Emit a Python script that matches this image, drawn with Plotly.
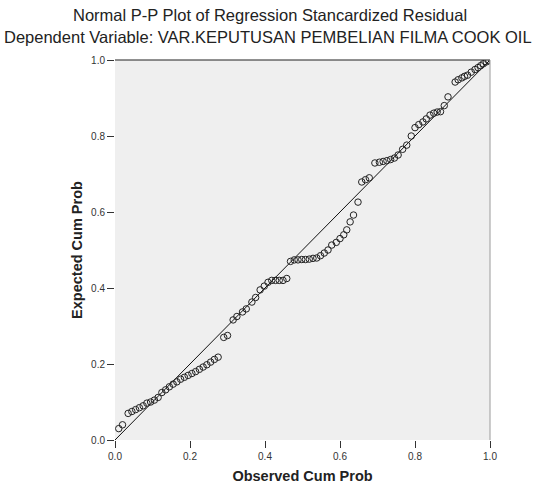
import plotly.graph_objects as go

title_text = "Normal P-P Plot of Regression Stancardized Residual"
subtitle_text = "Dependent Variable: VAR.KEPUTUSAN PEMBELIAN FILMA COOK OIL"
x_title = "Observed Cum Prob"
y_title = "Expected Cum Prob"
tick_vals = [0.0, 0.2, 0.4, 0.6, 0.8, 1.0]
tick_text = ["0.0", "0.2", "0.4", "0.6", "0.8", "1.0"]

observed = [0.01, 0.02, 0.035, 0.045, 0.055, 0.065, 0.075, 0.085, 0.095, 0.105,
            0.115, 0.125, 0.135, 0.145, 0.155, 0.165, 0.175, 0.185, 0.195, 0.205,
            0.215, 0.225, 0.235, 0.245, 0.255, 0.265, 0.275, 0.29, 0.30, 0.315,
            0.325, 0.34, 0.35, 0.365, 0.375, 0.387, 0.398, 0.408, 0.418, 0.428,
            0.438, 0.448, 0.458, 0.468, 0.478, 0.488, 0.498, 0.508, 0.518, 0.528,
            0.538, 0.548, 0.558, 0.568, 0.578, 0.59, 0.60, 0.61, 0.618, 0.627,
            0.636, 0.648, 0.658, 0.668, 0.678, 0.693, 0.705, 0.715, 0.725, 0.735,
            0.745, 0.755, 0.767, 0.778, 0.79, 0.80, 0.81, 0.821, 0.83, 0.84,
            0.85, 0.859, 0.868, 0.878, 0.888, 0.907, 0.915, 0.925, 0.932, 0.94,
            0.95, 0.96, 0.968, 0.975, 0.982, 0.99, 0.997]
expected = [0.03, 0.04, 0.07, 0.075, 0.08, 0.085, 0.09, 0.097, 0.10, 0.105,
            0.112, 0.125, 0.132, 0.14, 0.147, 0.153, 0.16, 0.165, 0.17, 0.175,
            0.18, 0.186, 0.192, 0.198, 0.205, 0.212, 0.218, 0.27, 0.275, 0.316,
            0.325, 0.337, 0.345, 0.363, 0.375, 0.395, 0.405, 0.415, 0.42, 0.42,
            0.42, 0.42, 0.425, 0.47, 0.474, 0.474, 0.475, 0.475, 0.476, 0.478,
            0.479, 0.485, 0.492, 0.50, 0.513, 0.52, 0.53, 0.54, 0.553, 0.574,
            0.592, 0.626, 0.679, 0.685, 0.69, 0.729, 0.731, 0.733, 0.735, 0.738,
            0.742, 0.75, 0.765, 0.776, 0.80, 0.822, 0.83, 0.837, 0.845, 0.855,
            0.86, 0.863, 0.864, 0.88, 0.903, 0.942, 0.948, 0.953, 0.957, 0.96,
            0.968, 0.975, 0.98, 0.985, 0.99, 0.995, 0.998]
ref_line = [0.0, 1.0]

fig = go.Figure()
fig.add_trace(go.Scatter(x=ref_line, y=ref_line, mode="lines",
                         line=dict(color="#111111", width=1), hoverinfo="skip",
                         showlegend=False))
fig.add_trace(go.Scatter(x=observed, y=expected, mode="markers",
                         marker=dict(symbol="circle-open", size=6.5,
                                     color="#222222", line=dict(width=1)),
                         showlegend=False))

font_family = "Liberation Sans, Arial, sans-serif"
fig.update_layout(
    width=536, height=484,
    margin=dict(l=115, r=46, t=60, b=44),
    paper_bgcolor="white",
    plot_bgcolor="#efefef",
    font=dict(family=font_family, color="#222222"),
    xaxis=dict(range=[0, 1], tickvals=tick_vals, ticktext=tick_text,
               ticks="outside", ticklen=7, tickcolor="#333333",
               tickfont=dict(size=10, color="#333333"),
               showgrid=False, zeroline=False, showline=False, automargin=False,
               title=dict(text="<b>" + x_title + "</b>",
                          font=dict(size=14.5, color="#222222"), standoff=18)),
    yaxis=dict(range=[0, 1], tickvals=tick_vals, ticktext=tick_text,
               ticks="outside", ticklen=7, tickcolor="#333333",
               tickfont=dict(size=10, color="#333333"),
               showgrid=False, zeroline=False, showline=False, automargin=False,
               title=dict(text="<b>" + y_title + "</b>",
                          font=dict(size=14.5, color="#222222"), standoff=5)),
    shapes=[
        dict(type="line", xref="paper", yref="paper", x0=0, x1=1, y0=1, y1=1,
             line=dict(color="#222222", width=1.2)),
        dict(type="line", xref="paper", yref="paper", x0=1, x1=1, y0=0, y1=1,
             line=dict(color="#aaaaaa", width=1.2)),
    ],
    annotations=[
        dict(text=title_text, xref="paper", yref="paper", x=(270 - 115) / 375, y=1,
             xanchor="center", yanchor="middle", yshift=45, showarrow=False,
             font=dict(size=16.5, color="#222222")),
        dict(text=subtitle_text, xref="paper", yref="paper", x=(268 - 115) / 375, y=1,
             xanchor="center", yanchor="middle", yshift=23, showarrow=False,
             font=dict(size=16.5, color="#222222")),
    ],
)
fig.write_html("out.html", config={"displayModeBar": False},
               post_script="document.body.style.margin='0';")
